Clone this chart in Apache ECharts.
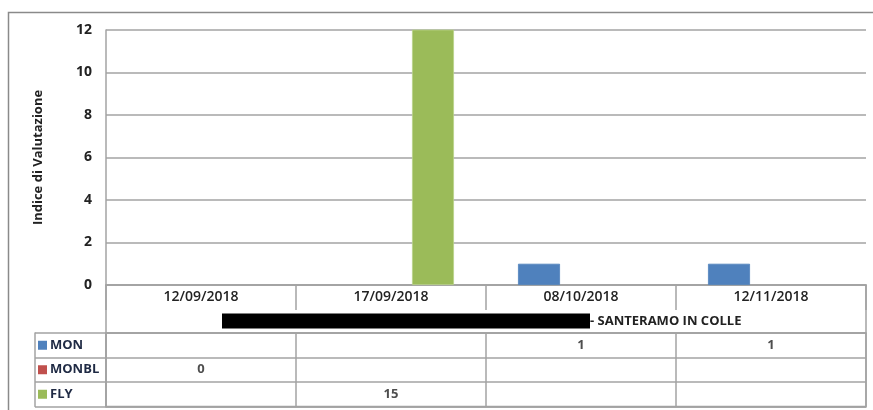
<!DOCTYPE html>
<html>
<head>
<meta charset="utf-8">
<script src="https://cdn.jsdelivr.net/npm/echarts@6/dist/echarts.min.js"></script>
<style>
html,body{margin:0;padding:0;background:#fff;}
#chart{width:873px;height:410px;}
</style>
</head>
<body>
<div id="chart"></div>
<script>
// ---- data ----
const categories = ['12/09/2018', '17/09/2018', '08/10/2018', '12/11/2018'];
const seriesNames = ['MON', 'MONBL', 'FLY'];
const monValues = [null, null, 1, 1];
const monblValues = [0, null, null, null];
const flyValues = [null, 15, null, null];
const yTicks = { min: 0, max: 12, interval: 2 };
const yAxisTitle = 'Indice di Valutazione';
const locationLabel = '- SANTERAMO IN COLLE';
const seriesColors = ['#4F81BD', '#C0504D', '#9BBB59'];

const allValues = [monValues, monblValues, flyValues];
const FONT = 'Open Sans';
const LINE = '#a3a3a3';
const TXT = '#222';

// table cells built from series arrays
const tableCells = [];
allValues.forEach((arr, si) => {
  arr.forEach((v, ci) => {
    if (v !== null && v !== undefined) tableCells.push([ci, seriesNames[si], v]);
  });
});

const chart = echarts.init(document.getElementById('chart'), null, { renderer: 'canvas' });

const rich = {};
seriesNames.forEach((n, i) => {
  rich['k' + i] = { backgroundColor: seriesColors[i], width: 9, height: 9 };
});
rich.n = { fontFamily: FONT, fontSize: 13, fontWeight: 'bold', color: '#1f2a44', padding: [0, 0, 0, 3] };

const option = {
  animation: false,
  graphic: [
    { type: 'rect', shape: { x: 8.5, y: 12.5, width: 900, height: 500 }, style: { fill: 'none', stroke: '#8a8a8a', lineWidth: 1.5 }, z: -10 },
    {
      type: 'text', x: 222, y: 321,
      style: {
        text: '{b|}{t|' + locationLabel + '}',
        verticalAlign: 'middle',
        rich: {
          b: { backgroundColor: '#000', width: 368, height: 15 },
          t: { fontFamily: FONT, fontSize: 13, fontWeight: 'bold', fill: TXT, color: TXT }
        }
      }
    }
  ],
  grid: [
    { left: 106, right: 7, top: 30, height: 255, containLabel: false },
    { left: 106, right: 7, top: 285, height: 48, show: true, borderColor: LINE, borderWidth: 1.5, backgroundColor: 'transparent' },
    { left: 106, right: 7, top: 333, height: 73.5, show: true, borderColor: LINE, borderWidth: 1.5, backgroundColor: 'transparent' }
  ],
  xAxis: [
    {
      gridIndex: 0, type: 'category', data: categories,
      axisLine: { show: true, lineStyle: { color: LINE, width: 1.5 } },
      axisTick: { show: true, length: 25, alignWithLabel: false, lineStyle: { color: LINE, width: 1.5 } },
      axisLabel: { margin: 5, fontFamily: FONT, fontSize: 14, fontWeight: 600, color: TXT },
      splitLine: { show: false }
    },
    { gridIndex: 1, type: 'category', data: categories, show: false },
    {
      gridIndex: 2, type: 'category', data: categories,
      axisLine: { show: true, lineStyle: { color: LINE, width: 1.5 } },
      axisTick: { show: false }, axisLabel: { show: false },
      splitLine: { show: true, lineStyle: { color: LINE, width: 1.5 } }
    }
  ],
  yAxis: [
    {
      gridIndex: 0, type: 'value', min: yTicks.min, max: yTicks.max, interval: yTicks.interval,
      name: yAxisTitle, nameLocation: 'middle', nameGap: 61, nameRotate: 90,
      nameTextStyle: { fontFamily: FONT, fontSize: 13, fontWeight: 'bold', color: TXT },
      axisLine: { show: true, lineStyle: { color: LINE, width: 1.5 } },
      axisTick: { show: false },
      axisLabel: { margin: 14, fontFamily: FONT, fontSize: 14, fontWeight: 'bold', color: TXT },
      splitLine: { show: true, lineStyle: { color: LINE, width: 1.5 } }
    },
    { gridIndex: 1, type: 'value', show: false },
    {
      gridIndex: 2, type: 'category', data: seriesNames, inverse: true,
      axisLine: { show: true, lineStyle: { color: LINE, width: 1.5 } },
      axisTick: { show: true, length: 71, alignWithLabel: false, lineStyle: { color: LINE, width: 1.5 } },
      axisLabel: {
        align: 'left', margin: 68,
        formatter: (v) => '{k' + seriesNames.indexOf(v) + '|}{n|' + v + '}',
        rich: rich
      },
      splitLine: { show: true, lineStyle: { color: LINE, width: 1.5 } }
    },
    {
      gridIndex: 2, type: 'category', data: seriesNames, inverse: true, position: 'left', offset: 71,
      axisLine: { show: true, lineStyle: { color: LINE, width: 1.5 } },
      axisTick: { show: false }, axisLabel: { show: false }, splitLine: { show: false }
    }
  ],
  series: [
    ...allValues.map((arr, i) => ({
      name: seriesNames[i], type: 'bar', xAxisIndex: 0, yAxisIndex: 0,
      data: arr, barGap: '0%', barCategoryGap: '33.7%', clip: true,
      itemStyle: { color: seriesColors[i], borderColor: i === 2 ? '#b9d38a' : seriesColors[i], borderWidth: i === 1 ? 0 : 0.8 }
    })),
    {
      type: 'scatter', xAxisIndex: 2, yAxisIndex: 2, data: tableCells,
      symbolSize: 1, itemStyle: { color: 'rgba(0,0,0,0)' },
      label: {
        show: true, position: 'inside', formatter: (p) => String(p.value[2]),
        fontFamily: FONT, fontSize: 13, fontWeight: 'bold', color: TXT
      }
    }
  ]
};
chart.setOption(option);
</script>
</body>
</html>
